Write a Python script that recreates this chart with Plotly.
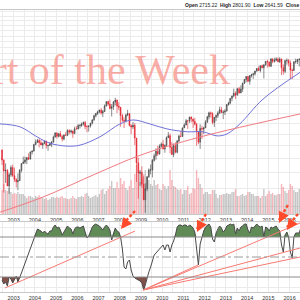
import numpy as np
import pandas as pd
import plotly.graph_objects as go

# ---------------- data (monthly, Jun 2002 .. Aug 2016) ----------------
close = (
    [990, 912, 916, 815, 886, 936, 880] +
    [856, 841, 848, 917, 964, 975, 990, 1008, 996, 1051, 1058, 1112] +
    [1131, 1145, 1126, 1107, 1121, 1141, 1102, 1104, 1115, 1130, 1174, 1212] +
    [1181, 1204, 1181, 1157, 1192, 1191, 1234, 1220, 1229, 1207, 1249, 1248] +
    [1280, 1281, 1295, 1311, 1270, 1270, 1277, 1304, 1336, 1378, 1401, 1418] +
    [1438, 1407, 1421, 1482, 1531, 1503, 1455, 1474, 1527, 1549, 1481, 1468] +
    [1379, 1331, 1323, 1386, 1400, 1280, 1267, 1283, 1166, 969, 896, 903] +
    [826, 735, 798, 873, 919, 919, 987, 1021, 1057, 1036, 1096, 1115] +
    [1074, 1104, 1169, 1187, 1089, 1031, 1102, 1049, 1141, 1183, 1181, 1258] +
    [1286, 1327, 1326, 1364, 1345, 1321, 1292, 1219, 1131, 1253, 1247, 1258] +
    [1312, 1366, 1408, 1398, 1310, 1362, 1379, 1407, 1441, 1412, 1416, 1426] +
    [1498, 1515, 1569, 1598, 1631, 1606, 1686, 1633, 1682, 1757, 1806, 1848] +
    [1783, 1859, 1872, 1884, 1924, 1960, 1931, 2003, 1972, 2018, 2068, 2059] +
    [1995, 2105, 2068, 2086, 2107, 2063, 2104, 1972, 1920, 2079, 2080, 2044] +
    [1940, 1932, 2060, 2065, 2097, 2099, 2174, 2171]
)
high = (
    [1070, 994, 965, 925, 900, 951, 955] +
    [935, 864, 895, 924, 965, 1015, 1015, 1011, 1040, 1054, 1063, 1112] +
    [1155, 1159, 1163, 1150, 1128, 1146, 1141, 1109, 1132, 1142, 1188, 1217] +
    [1217, 1212, 1229, 1192, 1199, 1219, 1245, 1245, 1243, 1233, 1270, 1276] +
    [1295, 1297, 1310, 1318, 1326, 1285, 1280, 1306, 1340, 1389, 1407, 1431] +
    [1441, 1461, 1439, 1499, 1535, 1541, 1556, 1504, 1538, 1576, 1555, 1524] +
    [1471, 1396, 1360, 1397, 1440, 1404, 1293, 1314, 1304, 1167, 1007, 919] +
    [944, 876, 832, 877, 930, 957, 997, 1039, 1081, 1101, 1113, 1130] +
    [1150, 1112, 1180, 1220, 1206, 1131, 1120, 1130, 1150, 1196, 1227, 1262] +
    [1303, 1345, 1332, 1367, 1371, 1346, 1357, 1307, 1230, 1293, 1278, 1269] +
    [1333, 1378, 1420, 1422, 1415, 1364, 1392, 1426, 1475, 1471, 1435, 1448] +
    [1504, 1530, 1570, 1598, 1687, 1654, 1698, 1709, 1730, 1765, 1814, 1849] +
    [1851, 1867, 1884, 1897, 1925, 1968, 1991, 2005, 2019, 2019, 2075, 2094] +
    [2064, 2120, 2117, 2125, 2135, 2130, 2133, 2113, 2021, 2094, 2116, 2105] +
    [2082, 1962, 2073, 2111, 2103, 2121, 2179, 2194]
)
low = (
    [953, 776, 834, 815, 768, 873, 872] +
    [840, 806, 789, 847, 902, 963, 962, 960, 990, 995, 1031, 1056] +
    [1105, 1124, 1087, 1107, 1076, 1113, 1079, 1060, 1099, 1090, 1128, 1173] +
    [1163, 1171, 1176, 1137, 1146, 1188, 1183, 1201, 1205, 1168, 1201, 1246] +
    [1245, 1253, 1268, 1280, 1245, 1219, 1224, 1261, 1290, 1327, 1360, 1385] +
    [1403, 1389, 1364, 1416, 1476, 1484, 1446, 1370, 1439, 1489, 1406, 1435] +
    [1270, 1317, 1257, 1311, 1373, 1272, 1200, 1247, 1107, 840, 741, 815] +
    [805, 735, 667, 784, 866, 889, 869, 978, 992, 1020, 1030, 1086] +
    [1071, 1045, 1101, 1168, 1040, 1029, 1011, 1040, 1040, 1132, 1173, 1176] +
    [1257, 1282, 1249, 1305, 1311, 1258, 1282, 1101, 1114, 1075, 1158, 1202] +
    [1258, 1310, 1341, 1358, 1292, 1267, 1325, 1354, 1396, 1403, 1343, 1385] +
    [1426, 1485, 1501, 1536, 1581, 1560, 1605, 1627, 1633, 1646, 1746, 1768] +
    [1770, 1737, 1834, 1815, 1859, 1915, 1930, 1905, 1964, 1821, 2001, 1973] +
    [1988, 1981, 2040, 2049, 2068, 2056, 2044, 1867, 1872, 1893, 2019, 1993] +
    [1812, 1810, 1931, 2033, 2026, 1992, 2074, 2148]
)
first_open = 1067
volume_rel = (
    [24, 30, 24, 23, 26, 22, 20] +
    [21, 20, 22, 20, 20, 20, 18, 16, 18, 18, 17, 16] +
    [18, 17, 19, 17, 16, 15, 16, 14, 15, 17, 17, 16] +
    [17, 16, 17, 18, 16, 16, 15, 15, 16, 18, 16, 15] +
    [17, 17, 18, 17, 20, 21, 18, 16, 17, 18, 19, 17] +
    [20, 24, 25, 20, 23, 25, 28, 33, 26, 26, 32, 26] +
    [36, 30, 33, 26, 24, 28, 34, 26, 40, 49, 40, 32] +
    [35, 40, 44, 36, 34, 30, 28, 34, 29, 30, 25, 24] +
    [30, 28, 25, 28, 44, 34, 28, 27, 25, 24, 25, 20] +
    [24, 24, 28, 20, 21, 26, 25, 44, 36, 30, 26, 20] +
    [22, 22, 20, 20, 24, 24, 20, 16, 19, 19, 20, 20] +
    [21, 20, 20, 22, 22, 25, 18, 18, 19, 20, 18, 19] +
    [22, 22, 20, 20, 18, 18, 18, 16, 18, 25, 18, 20] +
    [23, 20, 21, 19, 19, 20, 20, 30, 27, 23, 21, 24] +
    [30, 28, 24, 22, 22, 25, 21, 20]
)
indicator = (
    [27, 23, 25, 21, 30, 28, 24] +
    [27, 31, 25, 29, 34, 39, 44, 48, 53, 59, 64, 69] +
    [74, 78, 77, 76, 74, 76, 74, 73, 76, 76, 80, 82] +
    [79, 80, 77, 72, 75, 78, 81, 79, 78, 73, 78, 80] +
    [80, 79, 80, 81, 75, 69, 71, 76, 80, 82, 83, 82] +
    [81, 79, 77, 80, 82, 80, 77, 67, 74, 79, 76, 75] +
    [70, 58, 40, 38, 45, 47, 37, 31, 29, 28, 27, 26] +
    [24, 17, 22, 30, 35, 40, 47, 52, 54, 56, 59, 60] +
    [62, 57, 62, 62, 55, 62, 66, 72, 80, 82, 82, 81] +
    [82, 82, 80, 82, 81, 79, 75, 58, 42, 63, 70, 76] +
    [80, 82, 83, 80, 68, 65, 74, 78, 81, 79, 75, 77] +
    [81, 82, 83, 82, 83, 73, 79, 76, 80, 81, 83, 83] +
    [77, 74, 80, 79, 81, 83, 81, 80, 81, 70, 80, 79] +
    [76, 80, 79, 80, 81, 78, 76, 62, 55, 72, 75, 70] +
    [55, 49, 70, 74, 74, 74, 80, 82]
)

ma_dates = ["2002-05-11", "2003-04-20", "2004-02-06", "2004-09-15", "2005-07-05",
            "2006-02-15", "2007-01-25", "2008-01-05", "2008-08-15", "2009-06-01",
            "2010-03-20", "2011-03-05", "2011-12-01", "2012-08-01", "2013-01-20",
            "2013-08-28", "2014-10-01", "2016-06-28"]
ma_values = [1296, 1268, 1177, 1122, 1098, 1106, 1177, 1296, 1335, 1296,
             1249, 1222, 1222, 1185, 1203, 1296, 1560, 1905]

trend_dates = ["2002-05-11", "2004-05-18", "2006-12-05", "2008-12-15", "2011-10-12", "2016-06-28"]
trend_values = [670, 750, 896, 1025, 1175, 1396]

# indicator trend lines: (start date, start value, end date, end value)
ind_lines = [
    ("2002-08-03", 19, "2008-09-20", 76),
    ("2009-02-09", 17, "2011-09-10", 42),
    ("2009-02-09", 17, "2016-06-28", 84),
    ("2009-02-09", 17, "2016-06-28", 59),
    ("2009-02-09", 17, "2016-06-28", 50),
]
# arrows: (tail date, tail pixel-row, tip date, tip pixel-row)
arrows = [
    ("2008-09-19", 211, "2008-01-22", 229),
    ("2012-01-23", 214, "2011-08-21", 232),
    ("2015-12-03", 205, "2015-07-02", 223),
    ("2016-05-24", 214, "2015-11-16", 230),
]

# ---------------- build ----------------
months = pd.date_range("2002-06-01", periods=len(close), freq="MS") + pd.Timedelta(days=14)
assert len(high) == len(low) == len(volume_rel) == len(indicator) == len(close)
opens = [first_open] + close[:-1]
up = [c >= o for c, o in zip(close, opens)]

x0, x1 = "2002-05-11", "2016-06-28"
px_per_day = 300 / (pd.Timestamp(x1) - pd.Timestamp(x0)).days
fig = go.Figure()

fig.add_trace(go.Bar(
    x=months, y=volume_rel, xaxis="x", yaxis="y",
    marker=dict(color=["rgba(150,150,150,0.55)" if u else "rgba(240,110,120,0.5)" for u in up],
                line=dict(width=0)),
    hoverinfo="skip"))

fig.add_trace(go.Candlestick(
    x=months, open=opens, high=high, low=low, close=close, xaxis="x", yaxis="y2",
    increasing=dict(line=dict(color="#3a3a3a", width=0.6), fillcolor="#8a8a8a"),
    decreasing=dict(line=dict(color="#e3222e", width=0.6), fillcolor="#e3222e"),
    whiskerwidth=0))

fig.add_trace(go.Scatter(x=ma_dates, y=ma_values, xaxis="x", yaxis="y2", mode="lines",
                         line=dict(color="#7070d8", width=1), line_shape="spline"))
fig.add_trace(go.Scatter(x=trend_dates, y=trend_values, xaxis="x", yaxis="y2", mode="lines",
                         line=dict(color="#f07a80", width=1), line_shape="spline"))

ind = np.array(indicator, dtype=float)
fig.add_trace(go.Scatter(x=months, y=[70] * len(ind), xaxis="x2", yaxis="y3", mode="lines",
                         line=dict(width=0), hoverinfo="skip"))
fig.add_trace(go.Scatter(x=months, y=np.maximum(ind, 70), xaxis="x2", yaxis="y3", mode="lines",
                         line=dict(width=0), fill="tonexty", fillcolor="rgb(96,138,86)"))
fig.add_trace(go.Scatter(x=months, y=[30] * len(ind), xaxis="x2", yaxis="y3", mode="lines",
                         line=dict(width=0), hoverinfo="skip"))
fig.add_trace(go.Scatter(x=months, y=np.minimum(ind, 30), xaxis="x2", yaxis="y3", mode="lines",
                         line=dict(width=0), fill="tonexty", fillcolor="rgb(128,80,74)"))
fig.add_trace(go.Scatter(x=months, y=ind, xaxis="x2", yaxis="y3", mode="lines",
                         line=dict(color="#4a4a4a", width=1)))

for d0, v0, d1, v1 in ind_lines:
    fig.add_trace(go.Scatter(x=[d0, d1], y=[v0, v1], xaxis="x2", yaxis="y3", mode="lines",
                             line=dict(color="#f87a72", width=1)))

grid = "#ebebeb"
price_dom = [1 - 214 / 300, 1 - 9.5 / 300]
ind_dom = [1 - 292 / 300, 1 - 222 / 300]
xcommon = dict(type="date", range=[x0, x1], tick0="2003-01-01", dtick="M12", tickformat="%Y",
               showgrid=True, gridcolor=grid, gridwidth=1,
               minor=dict(dtick="M6", tick0="2002-01-01", showgrid=True, gridcolor=grid),
               showline=True, linecolor="#c8c8c8", linewidth=1, mirror=True,
               ticks="", tickfont=dict(family="Liberation Sans", size=5.5, color="#333"),
               zeroline=False)

shapes = [
    dict(type="line", xref="x2 domain", yref="y3", x0=0, x1=1, y0=70, y1=70,
         line=dict(color="#8a8a8a", width=1)),
    dict(type="line", xref="x2 domain", yref="y3", x0=0, x1=1, y0=30, y1=30,
         line=dict(color="#8a8a8a", width=1)),
    dict(type="line", xref="x2 domain", yref="y3", x0=0, x1=1, y0=50, y1=50,
         line=dict(color="#9a9a9a", width=1, dash="dashdot")),
]
annotations = []
acol = "#ff4b2b"
for td, tr, hd, hr in arrows:
    shapes.append(dict(type="line", xref="x2", yref="paper", x0=td, y0=1 - tr / 300,
                       x1=hd, y1=1 - (hr - 3) / 300,
                       line=dict(color=acol, width=2.4, dash="3px,2px")))
    dx = (pd.Timestamp(td) - pd.Timestamp(hd)).days * px_per_day
    dy = tr - hr
    n = (dx * dx + dy * dy) ** 0.5
    annotations.append(dict(x=hd, y=1 - hr / 300, xref="x2", yref="paper", text="",
                            showarrow=True, ax=dx / n * 5, ay=dy / n * 5,
                            axref="pixel", ayref="pixel",
                            arrowhead=2, arrowsize=1, arrowwidth=2.2, arrowcolor=acol,
                            standoff=0))

annotations.append(dict(text="Chart of the Week", xref="paper", yref="paper", x=232 / 300,
                        y=1 - 70 / 300, xanchor="right", yanchor="middle", showarrow=False,
                        font=dict(family="Liberation Serif", size=42, color="rgba(248,120,110,0.62)")))
annotations.append(dict(text="<b>Open</b> 2715.22  <b>High</b> 2801.90  <b>Low</b> 2641.59  <b>Close</b> 2640.87",
                        xref="paper", yref="paper", x=183 / 300, y=1 - 5 / 300,
                        xanchor="left", yanchor="middle", showarrow=False,
                        font=dict(family="Liberation Sans", size=5, color="#222")))

fig.update_layout(
    width=300, height=300, margin=dict(l=0, r=0, t=0, b=0),
    paper_bgcolor="white", plot_bgcolor="white", showlegend=False, bargap=0.15,
    xaxis=dict(domain=[0, 1], anchor="y", rangeslider=dict(visible=False), **xcommon),
    yaxis=dict(domain=price_dom, range=[0, 204], visible=False, showgrid=False, fixedrange=True),
    yaxis2=dict(domain=price_dom, overlaying="y", type="log",
                range=[np.log10(661), np.log10(3048)],
                tickvals=list(range(700, 3100, 100)), showticklabels=False,
                showgrid=True, gridcolor=grid, zeroline=False, showline=False, anchor="x"),
    xaxis2=dict(domain=[0, 1], anchor="y3", **xcommon),
    yaxis3=dict(domain=ind_dom, range=[15, 85], tickvals=[20, 40, 60, 80],
                showticklabels=False, showgrid=True, gridcolor=grid, zeroline=False,
                showline=False, anchor="x2"),
    shapes=shapes, annotations=annotations,
)
fig.write_html("out.html")
